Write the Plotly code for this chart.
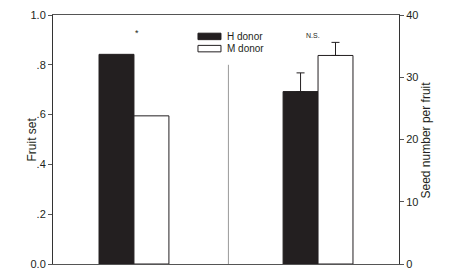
import plotly.graph_objects as go

# Data
panels = ["Fruit set", "Seed number per fruit"]
donors = ["H donor", "M donor"]
fruit_set = [0.842, 0.595]          # H, M (left axis)
seed_number = [27.7, 33.5]          # H, M (right axis)
seed_err = [3.0, 2.1]               # upward SE
left_ticks = [0.0, 0.2, 0.4, 0.6, 0.8, 1.0]
left_ticklabels = ["0.0", ".2", ".4", ".6", ".8", "1.0"]
right_ticks = [0, 10, 20, 30, 40]
signif = ["*", "N.S."]

# x positions (arbitrary layout coordinates on a 0-1 axis)
pos_fruit = [0.1835, 0.2845]
pos_seed = [0.7155, 0.8165]
bw = 0.101
colors = ["#231f20", "white"]

fig = go.Figure()
for i in range(2):
    fig.add_trace(go.Bar(
        x=[pos_fruit[i]], y=[fruit_set[i]], width=bw,
        marker=dict(color=colors[i], line=dict(color="#231f20", width=1)),
        name=donors[i], showlegend=False, yaxis="y"))
for i in range(2):
    fig.add_trace(go.Bar(
        x=[pos_seed[i]], y=[seed_number[i]], width=bw,
        marker=dict(color=colors[i], line=dict(color="#231f20", width=1)),
        error_y=dict(type="data", array=[seed_err[i]], arrayminus=[0], symmetric=False,
                     color="#231f20", thickness=1, width=4),
        name=donors[i], showlegend=False, yaxis="y2"))

font = dict(family="Liberation Sans, Arial, sans-serif", color="#231f20")

fig.update_layout(
    width=454, height=273,
    margin=dict(l=53, r=55, t=15, b=9),
    paper_bgcolor="white", plot_bgcolor="white",
    barmode="overlay", showlegend=False,
    font=dict(size=11, **font),
    xaxis=dict(range=[0, 1], showgrid=False, zeroline=False, showticklabels=False,
               ticks="", showline=True, linecolor="#555555", linewidth=1, mirror=True,
               fixedrange=True, automargin=False),
    yaxis=dict(range=[0, 1], tickvals=left_ticks, ticktext=left_ticklabels,
               showgrid=False, zeroline=False, showline=True, linecolor="#333333",
               linewidth=1, ticks="outside", ticklen=4, tickcolor="#555555",
               tickfont=dict(size=11), automargin=False),
    yaxis2=dict(range=[0, 40], tickvals=right_ticks, overlaying="y", side="right",
                showgrid=False, zeroline=False, showline=True, linecolor="#333333",
                linewidth=1, ticks="outside", ticklen=4, tickcolor="#555555",
                tickfont=dict(size=11), automargin=False),
)

# axis titles
fig.add_annotation(xref="paper", yref="paper", x=-0.0607, y=0.5, text=panels[0],
                   textangle=-90, showarrow=False, xanchor="center", yanchor="middle",
                   font=dict(size=12, **font))
fig.add_annotation(xref="paper", yref="paper", x=1.078, y=0.5, text=panels[1],
                   textangle=-90, showarrow=False, xanchor="center", yanchor="middle",
                   font=dict(size=12, **font))

# divider between panels
fig.add_shape(type="line", xref="x", yref="paper", x0=0.507, x1=0.507, y0=0, y1=0.80,
              line=dict(color="#999999", width=1))

# custom legend
leg_y = [0.914, 0.865]
for i in range(2):
    fig.add_shape(type="rect", xref="paper", yref="paper",
                  x0=0.419, x1=0.4855, y0=leg_y[i] - 0.013, y1=leg_y[i] + 0.013,
                  fillcolor=colors[i], line=dict(color="#231f20", width=1))
    fig.add_annotation(xref="paper", yref="paper", x=0.497, y=leg_y[i], text=donors[i],
                       showarrow=False, xanchor="left", yanchor="middle",
                       font=dict(size=10, **font))

# significance labels
fig.add_annotation(xref="x", yref="paper", x=0.2425, y=0.955, text=signif[0], showarrow=False,
                   font=dict(size=9, **font))
fig.add_annotation(xref="x", yref="paper", x=0.75, y=0.94, text=signif[1], showarrow=False,
                   font=dict(size=7, **font))

fig.write_html("out.html", config={"displayModeBar": False},
               post_script="document.body.style.margin='0';")
